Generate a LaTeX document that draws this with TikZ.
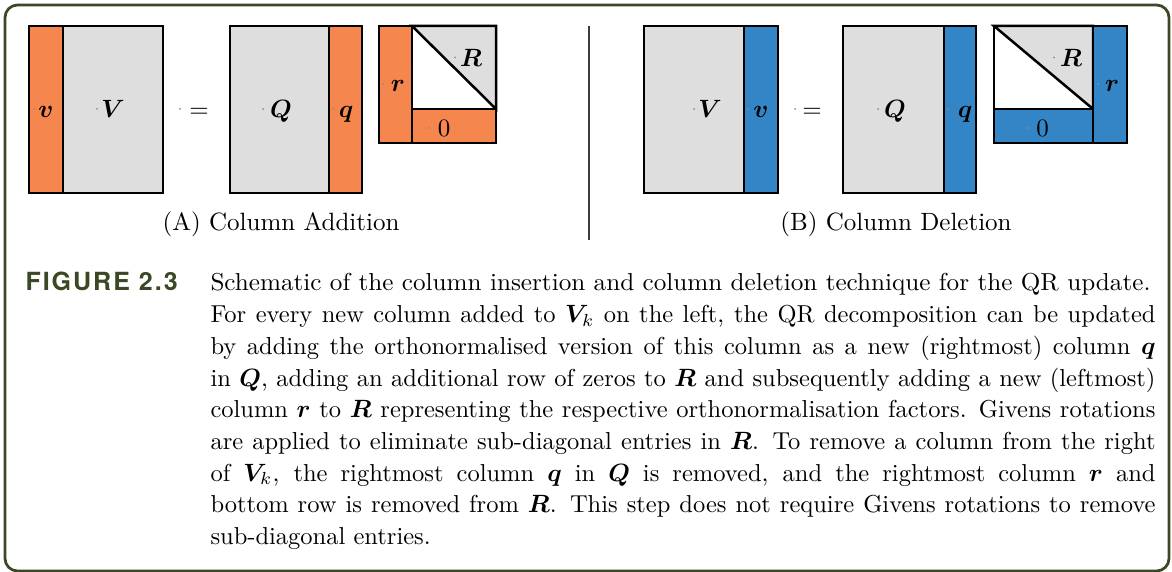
\documentclass[tikz,border=0pt]{standalone}
\usepackage{amsmath,bm,graphicx}
\usepackage{fontspec}
\newfontfamily\figfont[LetterSpace=8]{TeX Gyre Heros}
\definecolor{orng}{RGB}{244,134,78}
\definecolor{blu}{RGB}{51,133,198}
\definecolor{lgray}{RGB}{222,222,222}
\definecolor{olive}{RGB}{58,72,36}
\definecolor{sep}{RGB}{60,60,60}
\tikzset{
  blk/.style={draw=black, line width=1pt},
  lab/.style={inner sep=0pt, anchor=base, font=\fontsize{10}{12}\selectfont},
  pdot/.style={fill=black!45},
}
\begin{document}
\begin{tikzpicture}[x=0.4pt,y=-0.4pt]
\useasboundingbox (0,0) rectangle (1172,572);
% frame
\draw[olive, line width=1.1pt, rounded corners=5pt] (5,5) rectangle (1169,571);

% ---------- Panel A ----------
\filldraw[blk, fill=orng] (29,26) rectangle (63,193);
\filldraw[blk, fill=lgray] (63,26) rectangle (163,193);
\filldraw[blk, fill=lgray] (230,26) rectangle (329,193);
\filldraw[blk, fill=orng] (329,26) rectangle (362,193);
\filldraw[blk, fill=orng] (379,26) rectangle (412,143);
\filldraw[blk, fill=white] (412,26) rectangle (496,109);
\filldraw[blk, fill=lgray] (412,26) -- (496,26) -- (496,109) -- cycle;
\filldraw[blk, fill=orng] (412,109) rectangle (496,143);

\node[lab] (vA) at (46,117.5) {$\bm{v}$};
\node[lab] (VA) at (113,117.5) {$\bm{V}$};
\node[lab] (eqA) at (199,117.5) {$=$};
\node[lab] (QA) at (281,117.5) {$\bm{Q}$};
\node[lab] (qA) at (346,117.5) {$\bm{q}$};
\node[lab] (RA) at (471,66.5) {$\bm{R}$};
\node[lab] (rA) at (398,91.5) {$\bm{r}$};
\node[lab] (zA) at (444,136.5) {$0$};
\foreach \x in {34,97,180,263,333}{\fill[pdot] (\x,109) circle (0.4pt);}
\fill[pdot] (455,57.5) circle (0.4pt);
\fill[pdot] (383,84) circle (0.4pt);
\fill[pdot] (429,128) circle (0.4pt);
\node[lab] (capA) at (281,231) {(A) Column Addition};

% separator
\draw[sep, line width=0.5pt] (589,26) -- (589,240);

% ---------- Panel B ----------
\filldraw[blk, fill=lgray] (644,26) rectangle (744,193);
\filldraw[blk, fill=blu] (744,26) rectangle (778,193);
\filldraw[blk, fill=lgray] (843,26) rectangle (944,193);
\filldraw[blk, fill=blu] (944,26) rectangle (976,193);
\filldraw[blk, fill=white] (994,26) rectangle (1093,109);
\filldraw[blk, fill=lgray] (994,26) -- (1093,26) -- (1093,109) -- cycle;
\filldraw[blk, fill=blu] (994,109) rectangle (1093,143);
\filldraw[blk, fill=blu] (1093,26) rectangle (1127,143);

\node[lab] (VB) at (710,117.5) {$\bm{V}$};
\node[lab] (vB) at (761,117.5) {$\bm{v}$};
\node[lab] (eqB) at (812,117.5) {$=$};
\node[lab] (QB) at (895,117.5) {$\bm{Q}$};
\node[lab] (qB) at (965,117.5) {$\bm{q}$};
\node[lab] (RB) at (1071,66.5) {$\bm{R}$};
\node[lab] (rB) at (1112,91.5) {$\bm{r}$};
\node[lab] (zB) at (1042.5,136.5) {$0$};
\foreach \x in {694,748,795,878,948}{\fill[pdot] (\x,109) circle (0.4pt);}
\fill[pdot] (1054,57.5) circle (0.4pt);
\fill[pdot] (1098,84) circle (0.4pt);
\fill[pdot] (1027,128) circle (0.4pt);
\node[lab] (capB) at (896,231) {(B) Column Deletion};

% ---------- caption ----------
\node[inner sep=0pt, anchor=base west, text=olive] (figlab) at (25,291)
  {\fontsize{10}{12}\selectfont\figfont\bfseries FIGURE 2.3};
\node[inner sep=0pt, anchor=base west] (cap) at (210,291) {%
\parbox[t]{382pt}{\fontsize{9.8}{12.67}\selectfont
\resizebox{376pt}{\height}{Schematic of the column insertion and column deletion technique for the QR update.}\\
\makebox[378pt][s]{For every new column added to $\bm{V}_k$ on the left, the QR decomposition can be updated}\\
\makebox[378pt][s]{by adding the orthonormalised version of this column as a new (rightmost) column $\bm{q}$}\\
\makebox[378pt][s]{in $\bm{Q}$, adding an additional row of zeros to $\bm{R}$ and subsequently adding a new (leftmost)}\\
\makebox[378pt][s]{column $\bm{r}$ to $\bm{R}$ representing the respective orthonormalisation factors. Givens rotations}\\
\makebox[378pt][s]{are applied to eliminate sub-diagonal entries in $\bm{R}$. To remove a column from the right}\\
\makebox[378pt][s]{of $\bm{V}_k$, the rightmost column $\bm{q}$ in $\bm{Q}$ is removed, and the rightmost column $\bm{r}$ and}\\
\makebox[378pt][s]{bottom row is removed from $\bm{R}$. This step does not require Givens rotations to remove}\\
sub-diagonal entries.}};
\end{tikzpicture}
\end{document}
